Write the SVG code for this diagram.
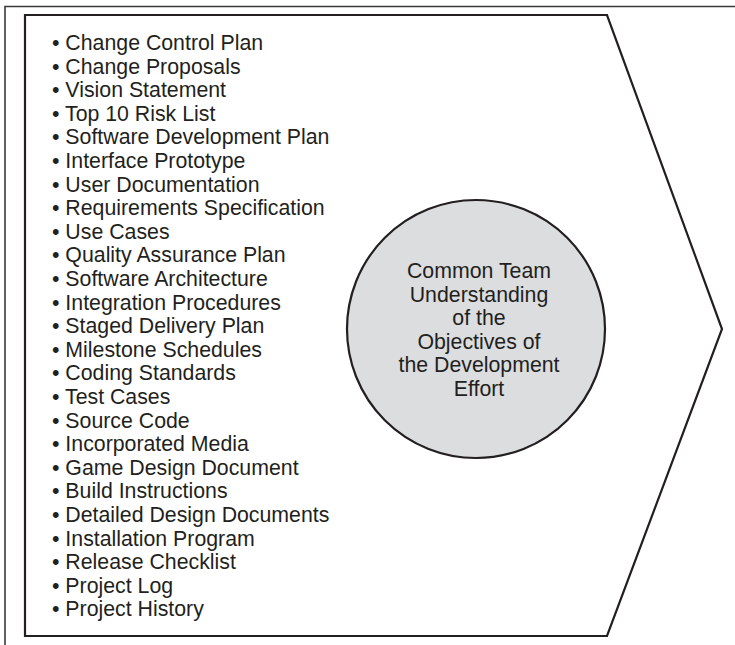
<svg xmlns="http://www.w3.org/2000/svg" width="735" height="645" viewBox="0 0 735 645">
<style>
.item{font-family:"Liberation Sans",Arial,sans-serif;font-size:21.3px;fill:#231f20}
.ctr{font-family:"Liberation Sans",Arial,sans-serif;font-size:21.3px;fill:#231f20;text-anchor:middle}
.frame{fill:none;stroke:#3a3a3a;stroke-width:1.6}
.shape{fill:#ffffff;stroke:#231f20;stroke-width:2.2;stroke-linejoin:miter}
.circ{fill:#dcdddf;stroke:#231f20;stroke-width:2.2}
</style>
<rect width="735" height="645" fill="#ffffff"/>
<g id="frame">
<polyline class="frame" points="5,645 5,6.5 735,6.5"/>
</g>
<g id="arrow-shape">
<polygon class="shape" points="25,15 607,15 722,329 607,636 25,636"/>
</g>
<g id="artifact-list">
<text class="item" x="52" y="50">• Change Control Plan</text>
<text class="item" x="52" y="73.6">• Change Proposals</text>
<text class="item" x="52" y="97.2">• Vision Statement</text>
<text class="item" x="52" y="120.8">• Top 10 Risk List</text>
<text class="item" x="52" y="144.4">• Software Development Plan</text>
<text class="item" x="52" y="168">• Interface Prototype</text>
<text class="item" x="52" y="191.6">• User Documentation</text>
<text class="item" x="52" y="215.2">• Requirements Specification</text>
<text class="item" x="52" y="238.8">• Use Cases</text>
<text class="item" x="52" y="262.4">• Quality Assurance Plan</text>
<text class="item" x="52" y="286">• Software Architecture</text>
<text class="item" x="52" y="309.6">• Integration Procedures</text>
<text class="item" x="52" y="333.2">• Staged Delivery Plan</text>
<text class="item" x="52" y="356.8">• Milestone Schedules</text>
<text class="item" x="52" y="380.4">• Coding Standards</text>
<text class="item" x="52" y="404">• Test Cases</text>
<text class="item" x="52" y="427.6">• Source Code</text>
<text class="item" x="52" y="451.2">• Incorporated Media</text>
<text class="item" x="52" y="474.8">• Game Design Document</text>
<text class="item" x="52" y="498.4">• Build Instructions</text>
<text class="item" x="52" y="522">• Detailed Design Documents</text>
<text class="item" x="52" y="545.6">• Installation Program</text>
<text class="item" x="52" y="569.2">• Release Checklist</text>
<text class="item" x="52" y="592.8">• Project Log</text>
<text class="item" x="52" y="616.4">• Project History</text>
</g>
<g id="common-understanding">
<circle class="circ" cx="476" cy="329" r="129"/>
<text class="ctr" x="479" y="278">Common Team</text>
<text class="ctr" x="479" y="301.6">Understanding</text>
<text class="ctr" x="479" y="325.2">of the</text>
<text class="ctr" x="479" y="348.8">Objectives of</text>
<text class="ctr" x="479" y="372.4">the Development</text>
<text class="ctr" x="479" y="396">Effort</text>
</g>
<g id="connectors"></g>
</svg>
